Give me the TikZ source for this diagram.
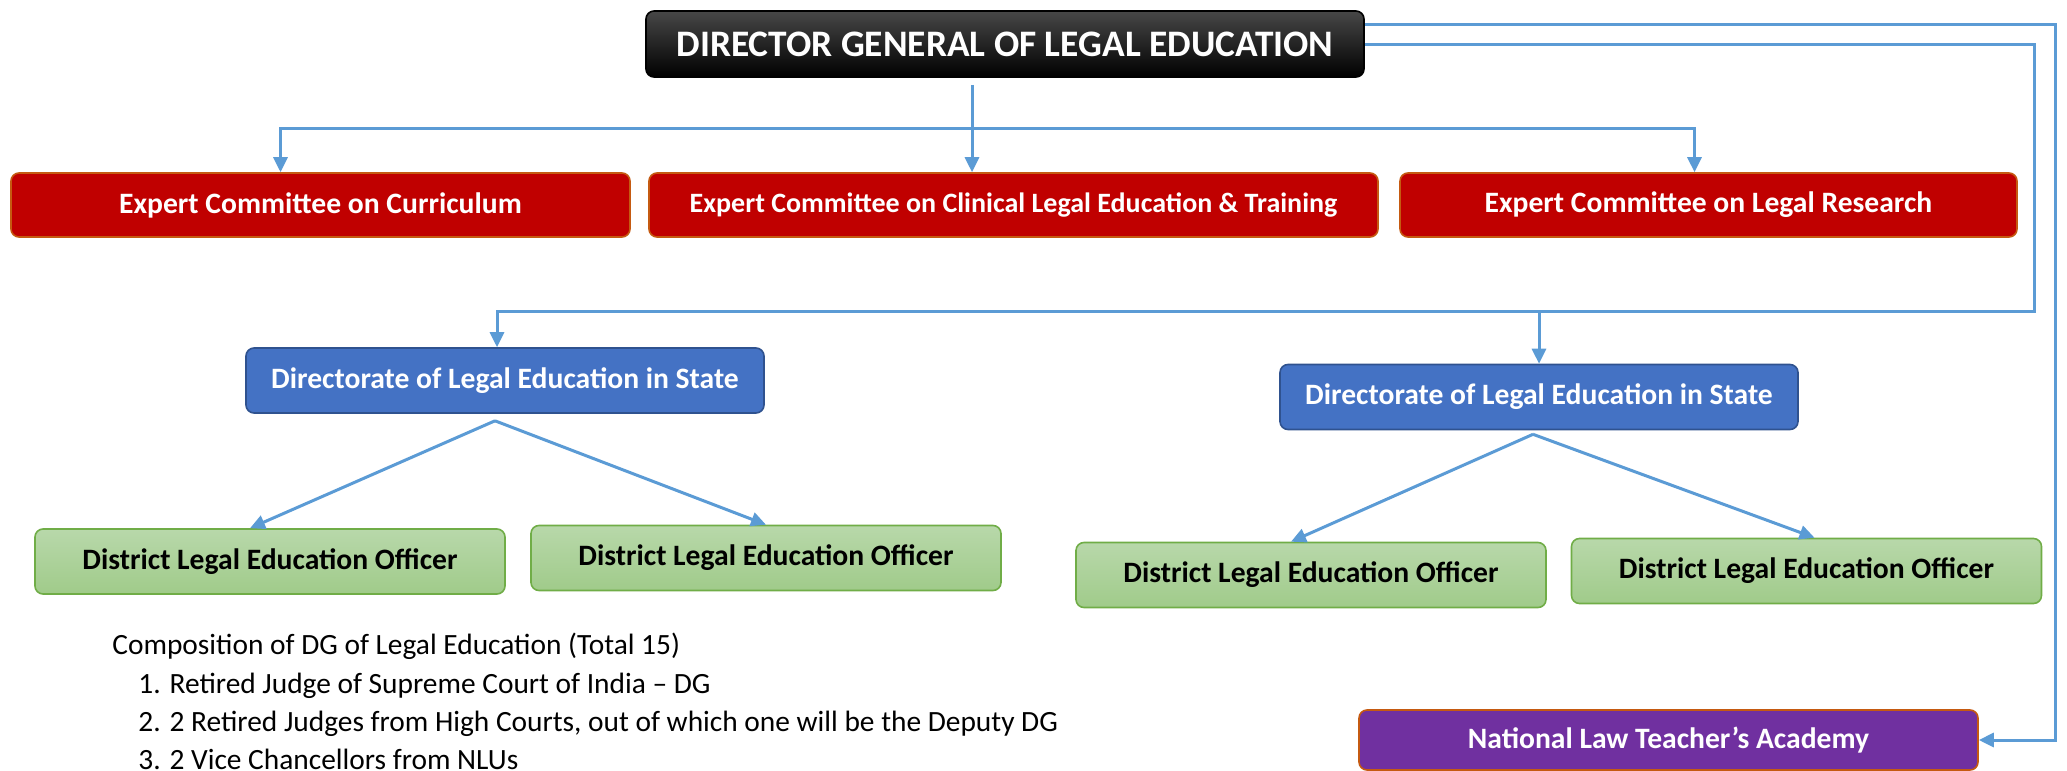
\documentclass[tikz,border=0pt]{standalone}
\usepackage{fontspec}
\setmainfont{Carlito}
\usetikzlibrary{arrows.meta,positioning}
\definecolor{LinkBlue}{RGB}{91,155,213}
\definecolor{DeepRed}{RGB}{192,0,0}
\definecolor{RustEdge}{RGB}{197,90,17}
\definecolor{StateBlue}{RGB}{68,114,196}
\definecolor{StateEdge}{RGB}{47,82,143}
\definecolor{LightGreen}{RGB}{184,216,170}
\definecolor{MidGreen}{RGB}{160,203,138}
\definecolor{GreenEdge}{RGB}{112,173,71}
\definecolor{AcademyPurple}{RGB}{112,48,160}

\begin{document}
\begin{tikzpicture}[x=0.5pt, y=-0.5pt, >={Triangle[length=7.5pt,width=7pt]},
    box/.style={draw, rounded corners=4pt, line width=0.8pt, align=center, inner sep=0pt,
        font=\fontsize{14.8}{17}\selectfont\bfseries},
    dgbox/.style={box, draw=black, top color=black!72, bottom color=black, text=white,
        minimum width=359pt, minimum height=33pt, font=\fontsize{18.7}{22}\selectfont\bfseries},
    redbox/.style={box, draw=RustEdge, fill=DeepRed, text=white, minimum height=32pt},
    statebox/.style={box, draw=StateEdge, fill=StateBlue, text=white, minimum width=259pt, minimum height=32.5pt},
    officerbox/.style={box, draw=GreenEdge, top color=LightGreen, bottom color=MidGreen, text=black,
        minimum width=235pt, minimum height=32.5pt},
    academybox/.style={box, draw=RustEdge, fill=AcademyPurple, text=white, minimum width=309.5pt, minimum height=30pt},
    link/.style={draw=LinkBlue, line width=1.5pt}]
    \useasboundingbox (0,0) rectangle (2067,771);

    % boxes
    \node [dgbox] (dg) at (1005,44) {DIRECTOR GENERAL OF LEGAL EDUCATION};
    \node [redbox, minimum width=309.5pt] (ecc) at (320.5,205) {Expert Committee on Curriculum};
    \node [redbox, minimum width=364.5pt, font=\fontsize{14}{17}\selectfont\bfseries] (ecl) at (1013.5,205)
        {Expert Committee on Clinical Legal Education \& Training};
    \node [redbox, minimum width=308.5pt] (ecr) at (1708.5,205) {Expert Committee on Legal Research};
    \node [statebox] (dir1) at (505,380.5) {Directorate of Legal Education in State};
    \node [statebox] (dir2) at (1539,397) {Directorate of Legal Education in State};
    \node [officerbox] (off1) at (270,561.5) {District Legal Education Officer};
    \node [officerbox] (off2) at (766,558) {District Legal Education Officer};
    \node [officerbox] (off3) at (1311,575) {District Legal Education Officer};
    \node [officerbox] (off4) at (1806.5,571) {District Legal Education Officer};
    \node [academybox] (nlta) at (1668.5,740) {National Law Teacher’s Academy};

    \node [anchor=north west, align=left, inner sep=0pt, font=\fontsize{14.7}{19.15}\selectfont] (comp) at (112,633)
        {Composition of DG of Legal Education (Total 15)\\
         \hspace*{13pt}1. Retired Judge of Supreme Court of India – DG\\
         \hspace*{13pt}2. 2 Retired Judges from High Courts, out of which one will be the Deputy DG\\
         \hspace*{13pt}3. 2 Vice Chancellors from NLUs};

    % connectors
    \coordinate (bus) at (0,128);
    \coordinate (outerA) at (2055,24);
    \coordinate (outerB) at (2034,311);

    \draw [link, ->] ([xshift=-16.5pt,yshift=-3.5pt]dg.south) -- ([xshift=-16.5pt]dg.south |- ecl.north);
    \draw [link, <->] ([xshift=-20pt]ecc.north) -- ([xshift=-20pt]ecc.north |- bus) -| ([xshift=-7pt]ecr.north);
    \draw [link, ->] ([yshift=10pt]dg.east) -- ([yshift=10pt]dg.east -| outerA) |- (nlta.east);
    \draw [link, ->] (dg.east) -| (outerB) -| ([xshift=-4pt]dir1.north);
    \draw [link, ->] (dir2.north |- outerB) -- (dir2.north);
    \draw [link, ->] ([xshift=-5pt,yshift=-3.5pt]dir1.south) -- ([xshift=-10pt]off1.north);
    \draw [link, ->] ([xshift=-5pt,yshift=-3.5pt]dir1.south) -- (off2.north);
    \draw [link, ->] ([xshift=-3pt,yshift=-2pt]dir2.south) -- ([xshift=-10pt]off3.north);
    \draw [link, ->] ([xshift=-3pt,yshift=-2pt]dir2.south) -- ([xshift=4pt]off4.north);
\end{tikzpicture}
\end{document}
